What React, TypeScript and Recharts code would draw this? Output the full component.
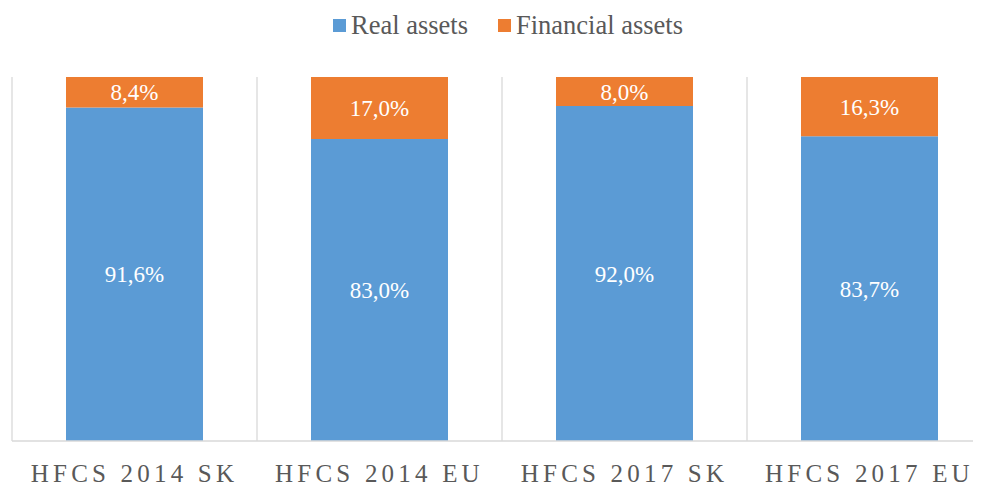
import { BarChart, Bar, XAxis, YAxis, CartesianGrid, LabelList } from "recharts";

const categories = ["HFCS 2014 SK", "HFCS 2014 EU", "HFCS 2017 SK", "HFCS 2017 EU"];
const realAssets = [91.6, 83.0, 92.0, 83.7];
const financialAssets = [8.4, 17.0, 8.0, 16.3];

const data = categories.map((name, i) => ({
  name,
  real: realAssets[i],
  financial: financialAssets[i],
}));

const font = '"Liberation Serif", "Times New Roman", serif';
const textGrey = "#595959";
const blue = "#5B9BD5";
const orange = "#ED7D31";

const fmt = (v: any) => Number(v).toFixed(1).replace(".", ",") + "%";

function LegendBlock() {
  const items = [
    { label: "Real assets", color: blue },
    { label: "Financial assets", color: orange },
  ];
  return (
    <div
      style={{
        position: "absolute",
        top: 2,
        left: 0,
        width: 1000,
        display: "flex",
        justifyContent: "center",
        gap: 30,
        fontFamily: font,
        fontSize: 26.5,
        color: textGrey,
      }}
    >
      {items.map((it) => (
        <div key={it.label} style={{ display: "flex", alignItems: "center" }}>
          <span style={{ display: "inline-block", width: 13, height: 13, background: it.color, marginRight: 5 }} />
          <span>{it.label}</span>
        </div>
      ))}
    </div>
  );
}

function CategoryTick({ x, y, payload }: any) {
  return (
    <text x={x} y={y} dy={33} textAnchor="middle" fill={textGrey} style={{ fontFamily: font }} fontSize={25} letterSpacing={4.2}>
      {payload.value}
    </text>
  );
}

export default function App() {
  return (
    <div style={{ position: "relative", width: 973, height: 478, overflow: "hidden" }}>
      <LegendBlock />
      <BarChart width={1000} height={478} data={data} margin={{ top: 69, right: 16, bottom: 0, left: 4 }}>
        <CartesianGrid
          horizontal={false}
          stroke="#d9d9d9"
          strokeWidth={1.3}
          verticalCoordinatesGenerator={({ offset }: any) =>
            categories.map((_, i) => offset.left + (offset.width * i) / categories.length).concat(offset.left + offset.width)
          }
        />
        <XAxis
          dataKey="name"
          tick={<CategoryTick />}
          tickLine={false}
          axisLine={{ stroke: "#d9d9d9", strokeWidth: 1.3 }}
          height={45}
          interval={0}
        />
        <YAxis hide domain={[0, 100]} />
        <Bar dataKey="real" stackId="a" fill={blue} barSize={137} isAnimationActive={false}>
          <LabelList dataKey="real" position="center" formatter={fmt} fill="#fff" style={{ fontFamily: font }} fontSize={23} />
        </Bar>
        <Bar dataKey="financial" stackId="a" fill={orange} barSize={137} isAnimationActive={false}>
          <LabelList dataKey="financial" position="center" formatter={fmt} fill="#fff" style={{ fontFamily: font }} fontSize={23} />
        </Bar>
      </BarChart>
    </div>
  );
}
